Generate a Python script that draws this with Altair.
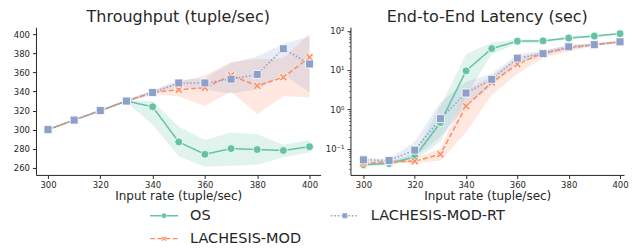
import altair as alt
import pandas as pd

x = [300, 310, 320, 330, 340, 350, 360, 370, 380, 390, 400]
series = ["OS", "LACHESIS-MOD", "LACHESIS-MOD-RT"]

# Throughput (tuple/sec)
os_tp = [300, 310, 320, 330, 324, 287, 274, 280, 279, 278, 282]
os_tp_lo = [300, 310, 320, 329, 305, 272, 261, 262, 263, 271, 276]
os_tp_hi = [300, 310, 320, 331, 330, 303, 289, 297, 295, 284, 289]
mod_tp = [300, 310, 320, 330, 339, 342, 344, 357, 346, 355, 376]
mod_tp_lo = [300, 310, 320, 329, 337, 335, 325, 340, 316, 335, 334]
mod_tp_hi = [300, 310, 320, 331, 341, 350, 357, 371, 374, 375, 401]
rt_tp = [300, 310, 320, 330, 339, 349, 349, 353, 358, 385, 369]
rt_tp_lo = [300, 310, 320, 329, 337, 345, 342, 338, 342, 358, 339]
rt_tp_hi = [300, 310, 320, 331, 341, 352, 354, 370, 377, 390, 398]

# End-to-end latency (sec)
os_lat = [0.039, 0.042, 0.062, 0.46, 9.5, 35, 54, 55, 65, 73, 84]
os_lat_lo = [0.035, 0.038, 0.05, 0.15, 2.2, 25, 48, 50, 60, 68, 78]
os_lat_hi = [0.043, 0.046, 0.075, 1.2, 25, 50, 60, 60, 70, 78, 90]
mod_lat = [0.042, 0.047, 0.048, 0.072, 1.2, 4.8, 14, 27, 36, 44, 52]
mod_lat_lo = [0.038, 0.043, 0.042, 0.05, 0.26, 2.3, 8, 20, 30, 40, 48]
mod_lat_hi = [0.046, 0.051, 0.056, 0.1, 3.0, 7.0, 20, 31, 42, 48, 56]
rt_lat = [0.052, 0.05, 0.092, 0.58, 2.6, 5.8, 20, 26, 39, 44, 52]
rt_lat_lo = [0.046, 0.045, 0.06, 0.2, 1.2, 4.0, 15, 22, 34, 41, 49]
rt_lat_hi = [0.058, 0.055, 0.15, 1.5, 5.0, 8.0, 25, 31, 44, 48, 56]

tp_ticks = [260, 280, 300, 320, 340, 360, 380, 400]
lat_ticks = [0.03, 0.04, 0.05, 0.06, 0.07, 0.08, 0.09, 0.1,
             0.2, 0.3, 0.4, 0.5, 0.6, 0.7, 0.8, 0.9, 1,
             2, 3, 4, 5, 6, 7, 8, 9, 10,
             20, 30, 40, 50, 60, 70, 80, 90, 100]
x_ticks = [300, 320, 340, 360, 380, 400]

# legend layout: (column, row) per series
legend_col = [0, 0, 1]
legend_row = [0, 1, 0]

colors = {"OS": "#66c2a5", "LACHESIS-MOD": "#fc8d62", "LACHESIS-MOD-RT": "#8da0cb"}
X_PATH = ("M-1,-0.6L-0.6,-1L0,-0.4L0.6,-1L1,-0.6L0.4,0L1,0.6L0.6,1"
          "L0,0.4L-0.6,1L-1,0.6L-0.4,0Z")
shapes = {"OS": "circle", "LACHESIS-MOD": X_PATH, "LACHESIS-MOD-RT": "square"}
dashes = {"OS": [1, 0], "LACHESIS-MOD": [5, 2.5], "LACHESIS-MOD-RT": [1.5, 2]}
leg_dashes = {"OS": [1, 0], "LACHESIS-MOD": [3.5, 2], "LACHESIS-MOD-RT": [1.2, 1.5]}

color_scale = alt.Scale(domain=series, range=[colors[s] for s in series])
shape_scale = alt.Scale(domain=series, range=[shapes[s] for s in series])
dash_scale = alt.Scale(domain=series, range=[dashes[s] for s in series])
leg_dash_scale = alt.Scale(domain=series, range=[leg_dashes[s] for s in series])


def make_df(vals):
    rows = []
    for s, (m, lo, hi) in zip(series, vals):
        for xi, mi, l, h in zip(x, m, lo, hi):
            rows.append({"x": xi, "series": s, "mean": mi, "lo": l, "hi": h})
    return pd.DataFrame(rows)


tp_df = make_df([(os_tp, os_tp_lo, os_tp_hi), (mod_tp, mod_tp_lo, mod_tp_hi),
                 (rt_tp, rt_tp_lo, rt_tp_hi)])
lat_df = make_df([(os_lat, os_lat_lo, os_lat_hi), (mod_lat, mod_lat_lo, mod_lat_hi),
                  (rt_lat, rt_lat_lo, rt_lat_hi)])
leg_df = pd.DataFrame({"series": series, "col": legend_col, "row": legend_row})

INK = "#262626"


def xaxis():
    return alt.Axis(values=x_ticks, title="Input rate (tuple/sec)",
                    grid=False, tickSize=3.5, labelFontSize=8.5, titleFontSize=12,
                    titleFontWeight="normal", titlePadding=2, labelPadding=2,
                    domainColor=INK, tickColor=INK, labelColor=INK,
                    titleColor=INK, labelFlush=False, labelOverlap=False)


H = 148


def panel(df, xscale, w, yscale, yaxis, title):
    base = alt.Chart(df)
    col = alt.Color("series:N", scale=color_scale, legend=None)
    X = alt.X("x:Q", scale=xscale, axis=xaxis())
    band = base.mark_area(opacity=0.2, interpolate="linear").encode(
        x=X,
        y=alt.Y("lo:Q", scale=yscale, axis=yaxis),
        y2="hi:Q",
        color=col,
        detail="series:N",
    )
    line = base.mark_line(strokeWidth=1.5).encode(
        x=X,
        y=alt.Y("mean:Q", scale=yscale, axis=yaxis),
        color=col,
        strokeDash=alt.StrokeDash("series:N", scale=dash_scale, legend=None),
    )
    pts = base.mark_point(filled=True, opacity=1, stroke="white", strokeWidth=0.8, size=64).encode(
        x=X,
        y=alt.Y("mean:Q", scale=yscale, axis=yaxis),
        color=col,
        shape=alt.Shape("series:N", scale=shape_scale, legend=None),
    )
    return alt.layer(band, line, pts).properties(
        width=w, height=H,
        title=alt.TitleParams(title, fontSize=16, fontWeight="normal", color=INK,
                              offset=2, font="DejaVu Sans"),
    )


tp_axis = alt.Axis(values=tp_ticks, title=None, grid=False, tickSize=3.5,
                   labelFontSize=8.5, labelPadding=3, domainColor=INK,
                   tickColor=INK, labelColor=INK, labelOverlap=False)
tp_scale = alt.Scale(domain=[252.3, 407.7], nice=False, zero=False)

MAJOR = "abs(log(datum.value)/LN10 - round(log(datum.value)/LN10)) < 0.001"
lat_axis = alt.Axis(values=lat_ticks, title=None, grid=False,
                    tickSize={"condition": {"test": MAJOR, "value": 3.5}, "value": 2},
                    tickWidth={"condition": {"test": MAJOR, "value": 0.9}, "value": 0.6},
                    labelFontSize=8.5, labelPadding=3, domainColor=INK,
                    tickColor=INK, labelColor=INK, labelOverlap=False,
                    labelExpr="(" + MAJOR + ") ? ('10' + (datum.value < 0.5 ? '⁻¹' : datum.value < 5 ? '⁰' : datum.value < 50 ? '¹' : '²')) : ''")
lat_scale = alt.Scale(type="log", domain=[0.0215, 122.7], nice=False)

left = panel(tp_df, alt.Scale(domain=[295.4, 404.2], nice=False, zero=False), 285,
             tp_scale, tp_axis, "Throughput (tuple/sec)")
right = panel(lat_df, alt.Scale(domain=[294.94, 401.56], nice=False, zero=False), 274,
              lat_scale, lat_axis, "End-to-End Latency (sec)")

# legend built as a small chart
lx = alt.X("col:O", scale=alt.Scale(type="point", padding=0.709), axis=None)
ly = alt.Y("row:O", scale=alt.Scale(type="point", padding=0.6), axis=None)
lbase = alt.Chart(leg_df)
leg_line = lbase.mark_point(shape="M-4,0H4", filled=False, size=49, strokeWidth=1.5, opacity=1).encode(
    x=lx, y=ly,
    stroke=alt.Stroke("series:N", scale=color_scale, legend=None),
    strokeDash=alt.StrokeDash("series:N", scale=leg_dash_scale, legend=None),
)
leg_mark = lbase.mark_point(filled=True, size=28, opacity=1, stroke="white", strokeWidth=0.5).encode(
    x=lx, y=ly,
    color=alt.Color("series:N", scale=color_scale, legend=None),
    shape=alt.Shape("series:N", scale=shape_scale, legend=None),
)
leg_text = lbase.mark_text(align="left", baseline="middle", dx=26, fontSize=14.5, color=INK).encode(
    x=lx, y=ly, text="series:N",
)
legend_chart = alt.layer(leg_line, leg_mark, leg_text).properties(width=437.7, height=50.6)

top = alt.hconcat(left, right, spacing=4).resolve_scale(y="independent", x="independent")
chart = alt.vconcat(top, legend_chart, spacing=0).properties(
    padding={"left": 5, "top": 0, "right": 0, "bottom": 0}
).configure(font="DejaVu Sans").configure_view(stroke=None)

chart.save("out.html", embed_options={"renderer": "svg", "actions": False})
